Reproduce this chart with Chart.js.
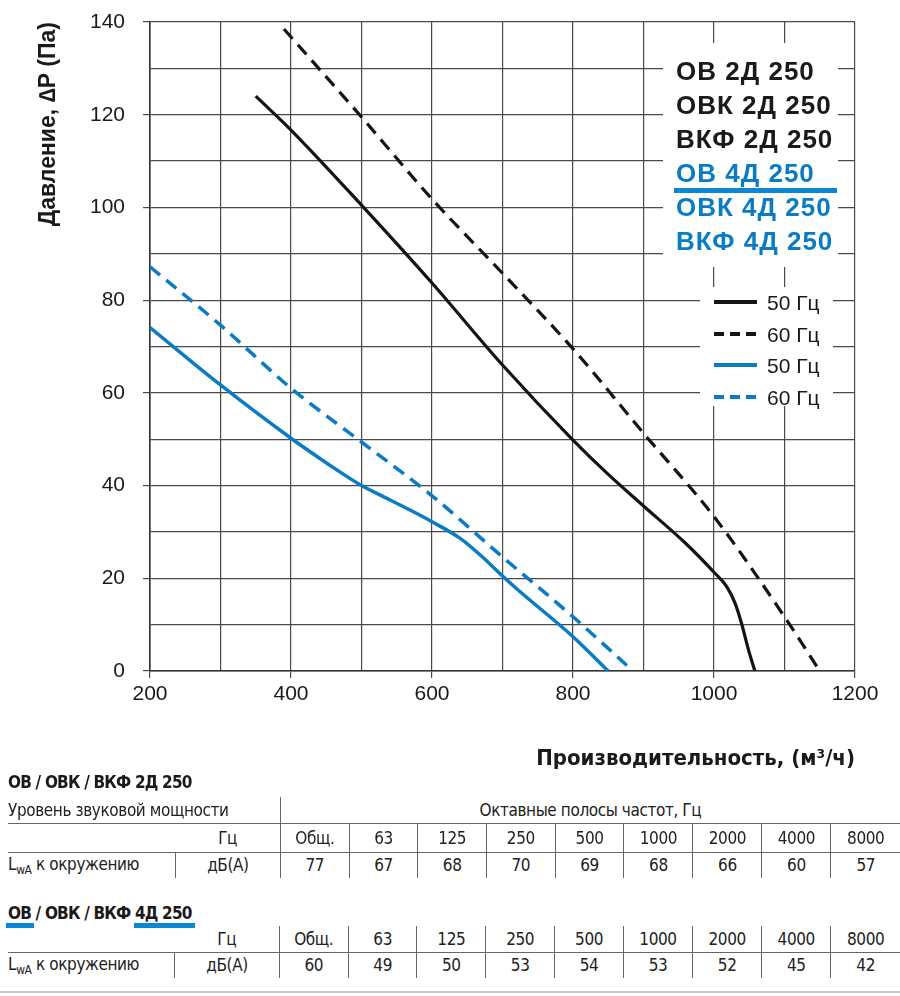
<!DOCTYPE html>
<html>
<head>
<meta charset="utf-8">
<title>ОВ / ОВК / ВКФ 250</title>
<script src="https://cdn.jsdelivr.net/npm/chart.js@4.4.1/dist/chart.umd.min.js"></script>
<style>
  body { margin: 0; background: #fff; width: 900px; height: 996px; position: relative; overflow: hidden;
         font-family: "Liberation Sans Narrow", "DejaVu Sans Condensed", "Liberation Sans", Arial, sans-serif; color: #222; }
  #wrap { position: absolute; left: 0; top: 0; width: 900px; height: 780px; }
  .ttl { position: absolute; left: 8px; font-weight: bold; font-size: 17px; letter-spacing: -0.8px; color: #1a1a1a; white-space: nowrap; }
  .uline { position: absolute; height: 5px; background: #0a88d6; }
  table.t { position: absolute; left: 8px; border-collapse: collapse; table-layout: fixed; font-size: 17px; letter-spacing: -0.4px; color: #222; }
  table.t td { padding: 0; text-align: center; white-space: nowrap; overflow: hidden; }
  table.t td.l { text-align: left; }
  table.t td.s { border-left: 1px solid #666; }
  table.t td.r { border-right: 1px solid #666; }
  table.t tr.b td { border-bottom: 1px solid #666; }
  sub { font-size: 12px; vertical-align: -4px; }
  #bottom { position: absolute; left: 0; top: 991px; width: 900px; height: 2px; background: #c8c8c8; }
</style>
</head>
<body>
<div id="wrap"><canvas id="chart"></canvas></div>

<div class="ttl" style="top:772px">ОВ / ОВК / ВКФ 2Д 250</div>
<table class="t" id="t2d" style="top:797px"></table>

<div class="ttl" style="top:903px">ОВ / ОВК / ВКФ 4Д 250</div>
<div class="uline" style="left:6px; top:923px; width:28px"></div>
<div class="uline" style="left:134px; top:923px; width:61px"></div>
<table class="t" id="t4d" style="top:926px"></table>

<div id="bottom"></div>

<script>
// ОВ / ОВК / ВКФ 2Д 250 (черные кривые)
const flow2D50 = [350, 400, 500, 600, 700, 800, 850, 900, 960, 1000, 1018, 1030, 1039, 1049, 1058];
const pres2D50 = [124, 116.7, 100.5, 83.7, 66, 49.8, 42.4, 35.6, 27.5, 21.3, 18.2, 14.6, 10.3, 4.5, 0];
const flow2D60 = [390, 500, 600, 700, 800, 900, 1000, 1100, 1150];
const pres2D60 = [138.5, 119.5, 101.8, 85.8, 69.5, 51.3, 33.3, 11.7, 0];

// ОВ / ОВК / ВКФ 4Д 250 (синие кривые)
const flow4D50 = [200, 300, 400, 455, 500, 526, 573, 600, 640, 670, 700, 725, 800, 850];
const pres4D50 = [74.1, 61.7, 50.2, 44.4, 40, 38, 34.4, 32.2, 28.6, 24.8, 20.5, 17.1, 7.4, 0];
const flow4D60 = [200, 300, 400, 500, 600, 700, 800, 885];
const pres4D60 = [87.2, 74.6, 61, 49.4, 37.8, 24.6, 11.7, 0];

// уровни звуковой мощности
const bandLabels = ['Общ.', '63', '125', '250', '500', '1000', '2000', '4000', '8000'];
const sound2D = [77, 67, 68, 70, 69, 68, 66, 60, 57];
const sound4D = [60, 49, 50, 53, 54, 53, 52, 45, 42];

const modelNames = ['ОВ 2Д 250', 'ОВК 2Д 250', 'ВКФ 2Д 250', 'ОВ 4Д 250', 'ОВК 4Д 250', 'ВКФ 4Д 250'];
const freqLabels = ['50 Гц', '60 Гц', '50 Гц', '60 Гц'];

const BLACK = '#141414';
const BLUE = '#0a7cc4';

function pts(xs, ys) {
    return xs.map((x, i) => ({ x: x, y: ys[i] }));
}

// белые подложки под надписями + сами надписи
const legendPlugin = {
    id: 'legendBoxes',
    beforeDatasetsDraw(chart) {
        const ctx = chart.ctx;
        ctx.save();
        ctx.fillStyle = '#fff';
        ctx.fillRect(663, 43, 175, 224);
        ctx.fillRect(700, 287, 133, 119);
        ctx.restore();
    },
    afterDraw(chart) {
        const ctx = chart.ctx;
        ctx.save();
        ctx.font = 'bold 26px "Liberation Sans", Arial, sans-serif';
        ctx.textBaseline = 'alphabetic';
        ctx.textAlign = 'left';
        if ('letterSpacing' in ctx) ctx.letterSpacing = '1px';
        modelNames.forEach((name, i) => {
            ctx.fillStyle = i < 3 ? '#1a1a1a' : BLUE;
            ctx.fillText(name, 676, 80 + i * 34);
        });
        ctx.fillStyle = '#0a88d6';
        ctx.fillRect(674, 188, 163, 5);

        if ('letterSpacing' in ctx) ctx.letterSpacing = '0px';
        ctx.font = '21px "Liberation Sans", Arial, sans-serif';
        const rowsY = [302, 334, 365, 397];
        freqLabels.forEach((lab, i) => {
            ctx.strokeStyle = i < 2 ? BLACK : BLUE;
            ctx.lineWidth = 4;
            ctx.setLineDash(i % 2 ? [10, 6] : []);
            ctx.beginPath();
            ctx.moveTo(714, rowsY[i]);
            ctx.lineTo(757, rowsY[i]);
            ctx.stroke();
            ctx.fillStyle = '#1a1a1a';
            ctx.fillText(lab, 767, rowsY[i] + 8);
        });
        ctx.restore();
    }
};

new Chart(document.getElementById('chart'), {
    type: 'line',
    data: {
        datasets: [
            { label: '2Д 50 Гц', data: pts(flow2D50, pres2D50), borderColor: BLACK, borderWidth: 3.2 },
            { label: '2Д 60 Гц', data: pts(flow2D60, pres2D60), borderColor: BLACK, borderWidth: 3.2, borderDash: [13, 8] },
            { label: '4Д 50 Гц', data: pts(flow4D50, pres4D50), borderColor: BLUE, borderWidth: 3.5 },
            { label: '4Д 60 Гц', data: pts(flow4D60, pres4D60), borderColor: BLUE, borderWidth: 3.5, borderDash: [13, 8] }
        ]
    },
    options: {
        responsive: true,
        maintainAspectRatio: false,
        animation: false,
        layout: { padding: { top: 22, right: 45, left: 0, bottom: 0 } },
        elements: {
            point: { radius: 0 },
            line: { cubicInterpolationMode: 'monotone', fill: false }
        },
        plugins: {
            legend: { display: false },
            tooltip: { enabled: false }
        },
        scales: {
            x: {
                type: 'linear',
                min: 200,
                max: 1200,
                afterFit: s => { s.height = 109; },
                ticks: {
                    stepSize: 100,
                    autoSkip: false,
                    maxRotation: 0,
                    padding: 4,
                    color: '#1a1a1a',
                    font: { family: '"Liberation Sans", Arial, sans-serif', size: 21 },
                    callback: v => v % 200 === 0 ? v : ''
                },
                grid: {
                    color: '#4a4a4a',
                    lineWidth: 1.2,
                    tickLength: 7,
                    tickColor: c => c.tick && c.tick.value % 200 === 0 ? '#4a4a4a' : 'rgba(0,0,0,0)'
                },
                border: { color: '#333', width: 1.6 },
                title: {
                    display: true,
                    text: 'Производительность, (м³/ч)',
                    align: 'end',
                    color: '#1a1a1a',
                    font: { family: '"Liberation Sans Narrow", "DejaVu Sans Condensed", "Liberation Sans", Arial', size: 22, weight: 'bold' },
                    padding: { top: 0, bottom: 8 }
                }
            },
            y: {
                min: 0,
                max: 140,
                afterFit: s => { s.width = 150; s.paddingTop = 10; s.paddingBottom = 10; },
                ticks: {
                    stepSize: 10,
                    autoSkip: false,
                    padding: 18,
                    color: '#1a1a1a',
                    font: { family: '"Liberation Sans", Arial, sans-serif', size: 21 },
                    callback: v => v % 20 === 0 ? v : ''
                },
                grid: {
                    color: '#4a4a4a',
                    lineWidth: 1.2,
                    tickLength: 7,
                    tickColor: c => c.tick && c.tick.value % 20 === 0 ? '#4a4a4a' : 'rgba(0,0,0,0)'
                },
                border: { color: '#333', width: 1.6 },
                title: {
                    display: true,
                    text: 'Давление, ∆P (Па)',
                    align: 'end',
                    color: '#1a1a1a',
                    font: { family: '"Liberation Sans", Arial, sans-serif', size: 23, weight: 'bold' },
                    padding: { top: 35, bottom: 0 }
                }
            }
        }
    },
    plugins: [legendPlugin]
});

// таблицы уровня звуковой мощности
function colgroup() {
    let s = '<colgroup><col style="width:168px"><col style="width:106px">';
    bandLabels.forEach(() => { s += '<col style="width:70px">'; });
    return s + '</colgroup>';
}

function bandRow(h, bottom) {
    let s = '<tr class="' + (bottom ? 'b' : '') + '" style="height:' + h + 'px"><td></td><td>Гц</td>';
    bandLabels.forEach(b => { s += '<td class="s">' + b + '</td>'; });
    return s + '</tr>';
}

function levelRow(vals, h) {
    let s = '<tr style="height:' + h + 'px"><td class="l r">L<sub>wA</sub> к окружению</td><td>дБ(А)</td>';
    vals.forEach(v => { s += '<td class="s">' + v + '</td>'; });
    return s + '</tr>';
}

document.getElementById('t2d').innerHTML = colgroup() +
    '<tr class="b" style="height:26px"><td class="l" colspan="2">Уровень звуковой мощности</td>' +
    '<td class="s" colspan="' + bandLabels.length + '">Октавные полосы частот, Гц</td></tr>' +
    bandRow(29, true) + levelRow(sound2D, 26);

document.getElementById('t4d').innerHTML = colgroup() + bandRow(26, true) + levelRow(sound4D, 26);
</script>
</body>
</html>
